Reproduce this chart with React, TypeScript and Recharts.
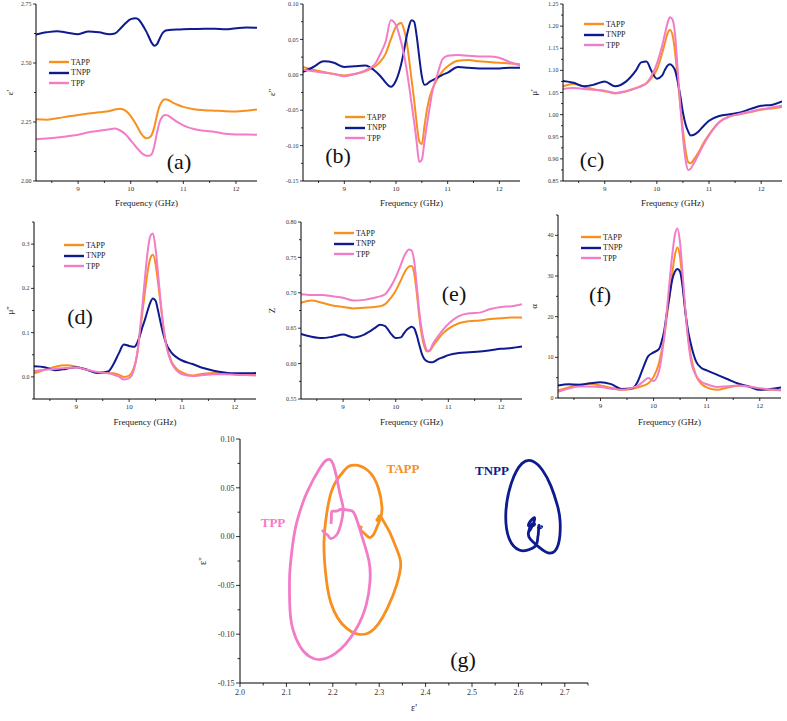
import { LineChart, Line, XAxis, YAxis, Legend } from 'recharts'

const SERIF = '"Liberation Serif", "Times New Roman", serif'

const COLORS: Record<string, string> = {
  TAPP: '#F7901F',
  TNPP: '#0E1B8E',
  TPP: '#F27CC8',
}
const SERIES = ['TAPP', 'TNPP', 'TPP']

// frequency grid (GHz)
const freq = [8.2, 8.4, 8.6, 8.8, 9.0, 9.2, 9.4, 9.6, 9.7, 9.8, 9.9, 10.0, 10.1, 10.15, 10.2, 10.25, 10.3, 10.35, 10.4, 10.45, 10.5, 10.55, 10.6, 10.65, 10.7, 10.8, 10.9, 11.0, 11.2, 11.4, 11.6, 11.8, 12.0, 12.2, 12.4]

// (a) real permittivity
const epsRealTAPP = [2.262, 2.260, 2.266, 2.273, 2.280, 2.286, 2.291, 2.297, 2.303, 2.306, 2.298, 2.275, 2.240, 2.220, 2.200, 2.187, 2.181, 2.184, 2.196, 2.230, 2.280, 2.318, 2.338, 2.346, 2.344, 2.332, 2.322, 2.314, 2.304, 2.300, 2.298, 2.296, 2.295, 2.298, 2.303]
const epsRealTNPP = [2.621, 2.630, 2.635, 2.628, 2.622, 2.634, 2.630, 2.622, 2.625, 2.645, 2.668, 2.686, 2.690, 2.684, 2.670, 2.652, 2.632, 2.608, 2.585, 2.573, 2.580, 2.603, 2.625, 2.636, 2.639, 2.641, 2.642, 2.643, 2.644, 2.645, 2.645, 2.643, 2.647, 2.650, 2.649]
const epsRealTPP = [2.177, 2.180, 2.184, 2.190, 2.196, 2.207, 2.213, 2.219, 2.222, 2.214, 2.198, 2.172, 2.145, 2.132, 2.120, 2.112, 2.107, 2.107, 2.114, 2.150, 2.205, 2.250, 2.272, 2.280, 2.278, 2.263, 2.248, 2.236, 2.220, 2.213, 2.208, 2.200, 2.197, 2.197, 2.196]

// (b) imaginary permittivity
const epsImagTAPP = [0.011, 0.007, 0.004, 0.001, -0.001, 0.001, 0.005, 0.012, 0.019, 0.030, 0.050, 0.068, 0.073, 0.065, 0.050, 0.024, -0.006, -0.035, -0.068, -0.094, -0.098, -0.073, -0.049, -0.032, -0.021, -0.006, 0.005, 0.012, 0.020, 0.021, 0.019, 0.018, 0.017, 0.016, 0.015]
const epsImagTNPP = [0.004, 0.011, 0.019, 0.017, 0.011, 0.012, 0.013, 0.005, -0.002, -0.011, -0.017, -0.008, 0.015, 0.032, 0.052, 0.068, 0.077, 0.075, 0.055, 0.025, -0.002, -0.014, -0.013, -0.010, -0.008, -0.004, 0.000, 0.003, 0.011, 0.010, 0.009, 0.009, 0.009, 0.010, 0.010]
const epsImagTPP = [0.007, 0.005, 0.003, 0.001, -0.002, 0.001, 0.006, 0.016, 0.030, 0.047, 0.077, 0.070, 0.046, 0.030, 0.010, -0.014, -0.040, -0.066, -0.095, -0.123, -0.120, -0.095, -0.070, -0.047, -0.025, 0.000, 0.022, 0.027, 0.028, 0.027, 0.026, 0.026, 0.024, 0.018, 0.013]

// (c) real permeability
const muRealTAPP = [1.064, 1.070, 1.063, 1.057, 1.053, 1.048, 1.052, 1.060, 1.065, 1.071, 1.083, 1.102, 1.138, 1.160, 1.182, 1.191, 1.180, 1.140, 1.080, 1.020, 0.965, 0.920, 0.893, 0.890, 0.897, 0.915, 0.937, 0.955, 0.984, 0.996, 1.001, 1.006, 1.011, 1.014, 1.017]
const muRealTNPP = [1.076, 1.072, 1.064, 1.068, 1.075, 1.064, 1.074, 1.100, 1.118, 1.120, 1.098, 1.081, 1.088, 1.100, 1.110, 1.114, 1.110, 1.100, 1.075, 1.042, 1.005, 0.978, 0.962, 0.953, 0.954, 0.962, 0.975, 0.986, 0.997, 1.001, 1.005, 1.013, 1.020, 1.022, 1.030]
const muRealTPP = [1.058, 1.060, 1.058, 1.056, 1.054, 1.049, 1.053, 1.060, 1.064, 1.071, 1.088, 1.115, 1.155, 1.180, 1.205, 1.220, 1.215, 1.180, 1.100, 1.020, 0.950, 0.898, 0.875, 0.878, 0.888, 0.910, 0.933, 0.953, 0.983, 0.996, 1.002, 1.007, 1.012, 1.016, 1.020]

// (d) imaginary permeability
const muImagTAPP = [0.008, 0.016, 0.023, 0.026, 0.023, 0.016, 0.010, 0.009, 0.008, 0.005, 0.000, 0.003, 0.025, 0.050, 0.095, 0.145, 0.193, 0.238, 0.268, 0.276, 0.255, 0.210, 0.160, 0.112, 0.075, 0.035, 0.018, 0.010, 0.003, 0.007, 0.009, 0.008, 0.006, 0.005, 0.004]
const muImagTNPP = [0.024, 0.022, 0.015, 0.018, 0.022, 0.016, 0.009, 0.012, 0.028, 0.052, 0.073, 0.070, 0.068, 0.076, 0.092, 0.112, 0.130, 0.150, 0.168, 0.177, 0.172, 0.148, 0.120, 0.095, 0.075, 0.055, 0.044, 0.037, 0.029, 0.020, 0.014, 0.010, 0.008, 0.008, 0.009]
const muImagTPP = [0.013, 0.016, 0.018, 0.020, 0.021, 0.016, 0.011, 0.008, 0.005, 0.001, -0.006, -0.003, 0.020, 0.050, 0.100, 0.160, 0.225, 0.283, 0.318, 0.324, 0.290, 0.230, 0.165, 0.110, 0.072, 0.032, 0.014, 0.006, 0.002, 0.004, 0.006, 0.006, 0.005, 0.004, 0.003]

// (e) impedance
const zTAPP = [0.686, 0.689, 0.686, 0.682, 0.680, 0.678, 0.679, 0.680, 0.681, 0.684, 0.692, 0.703, 0.718, 0.726, 0.733, 0.737, 0.738, 0.728, 0.700, 0.665, 0.638, 0.623, 0.617, 0.618, 0.624, 0.634, 0.643, 0.649, 0.657, 0.660, 0.661, 0.663, 0.664, 0.665, 0.665]
const zTNPP = [0.642, 0.638, 0.636, 0.638, 0.641, 0.637, 0.641, 0.650, 0.655, 0.653, 0.643, 0.636, 0.637, 0.642, 0.647, 0.650, 0.652, 0.650, 0.640, 0.626, 0.613, 0.606, 0.603, 0.602, 0.602, 0.606, 0.609, 0.612, 0.615, 0.616, 0.617, 0.619, 0.621, 0.622, 0.624]
const zTPP = [0.698, 0.697, 0.697, 0.695, 0.693, 0.689, 0.690, 0.693, 0.695, 0.698, 0.708, 0.722, 0.740, 0.750, 0.757, 0.761, 0.760, 0.745, 0.710, 0.672, 0.645, 0.628, 0.618, 0.619, 0.627, 0.638, 0.648, 0.656, 0.667, 0.671, 0.672, 0.677, 0.680, 0.681, 0.684]

// (f) attenuation constant
const alphaTAPP = [1.9, 2.6, 3.4, 3.5, 3.1, 2.5, 2.0, 2.3, 2.6, 3.0, 3.6, 5.2, 8.5, 11.5, 15.0, 20.0, 25.0, 30.5, 35.0, 37.0, 34.5, 28.0, 21.0, 15.0, 10.5, 5.5, 3.5, 2.6, 2.0, 2.6, 3.0, 2.8, 2.3, 2.0, 1.9]
const alphaTNPP = [3.1, 3.4, 3.2, 3.6, 3.9, 3.4, 2.2, 2.4, 4.0, 7.3, 10.3, 11.2, 12.0, 13.8, 16.5, 21.0, 25.0, 29.0, 31.0, 31.7, 31.0, 27.0, 21.0, 16.5, 13.4, 9.0, 7.4, 6.8, 5.7, 4.6, 3.5, 2.8, 2.0, 2.2, 2.6]
const alphaTPP = [1.5, 2.3, 2.8, 2.8, 2.7, 2.3, 2.0, 2.5, 3.0, 4.0, 4.9, 4.2, 6.5, 10.0, 15.0, 21.5, 28.5, 35.0, 40.0, 41.7, 38.0, 30.0, 21.5, 14.5, 9.5, 5.5, 4.0, 3.4, 2.7, 2.9, 3.1, 2.8, 2.4, 2.1, 1.9]

// tick values
const freqTicks = [8.5, 9, 9.5, 10, 10.5, 11, 11.5, 12]
const ticksA = [2.0, 2.125, 2.25, 2.375, 2.5, 2.625, 2.75]
const ticksB = [-0.15, -0.125, -0.1, -0.075, -0.05, -0.025, 0, 0.025, 0.05, 0.075, 0.1]
const ticksC = [0.85, 0.875, 0.9, 0.925, 0.95, 0.975, 1.0, 1.025, 1.05, 1.075, 1.1, 1.125, 1.15, 1.175, 1.2, 1.225, 1.25]
const ticksD = [-0.05, 0, 0.05, 0.1, 0.15, 0.2, 0.25, 0.3, 0.35]
const ticksE = [0.55, 0.575, 0.6, 0.625, 0.65, 0.675, 0.7, 0.725, 0.75, 0.775, 0.8]
const ticksF = [0, 5, 10, 15, 20, 25, 30, 35, 40, 45]
const ticksGX = [2.0, 2.05, 2.1, 2.15, 2.2, 2.25, 2.3, 2.35, 2.4, 2.45, 2.5, 2.55, 2.6, 2.65, 2.7, 2.75]
const ticksGY = [-0.15, -0.125, -0.1, -0.075, -0.05, -0.025, 0, 0.025, 0.05, 0.075, 0.1]

const rows = (a: number[], b: number[], c: number[]) =>
  freq.map((f, i) => ({ f, TAPP: a[i], TNPP: b[i], TPP: c[i] }))

const coleCole = (re: number[], im: number[]) => freq.map((_, i) => ({ x: re[i], y: im[i] }))

const isMajor = (v: number, step: number) => Math.abs(v / step - Math.round(v / step)) < 1e-6

function XTick(props: any) {
  const { x, y, payload, step, digits = 0, size = 7, len = 3, minor = 2 } = props
  const v = payload.value
  const major = isMajor(v, step)
  return (
    <g>
      <line x1={x} x2={x} y1={y} y2={y + (major ? len : minor)} stroke="#000" strokeWidth={0.8} />
      {major && (
        <text x={x} y={y + len + 2} dy="0.75em" textAnchor="middle" fontSize={size} fontFamily={SERIF} fill="#333">
          {v.toFixed(digits)}
        </text>
      )}
    </g>
  )
}

function YTick(props: any) {
  const { x, y, payload, step, digits = 2, size = 6, len = 3, minor = 2 } = props
  const v = payload.value
  const major = isMajor(v, step)
  return (
    <g>
      <line x1={x - (major ? len : minor)} x2={x} y1={y} y2={y} stroke="#000" strokeWidth={0.8} />
      {major && (
        <text x={x - len - 1.5} y={y} dy="0.35em" textAnchor="end" fontSize={size} fontFamily={SERIF} fill="#333">
          {v.toFixed(digits)}
        </text>
      )}
    </g>
  )
}

const LegendBox = ({ payload }: any) => (
  <div style={{ fontFamily: SERIF, fontSize: 8, color: '#222' }}>
    {(payload || []).map((p: any) => (
      <div key={p.value} style={{ display: 'flex', alignItems: 'center', height: 10.5 }}>
        <svg width={20} height={4} style={{ marginRight: 2 }}>
          <line x1={0} x2={20} y1={2} y2={2} stroke={p.color} strokeWidth={2.4} />
        </svg>
        <span>{p.value}</span>
      </div>
    ))}
  </div>
)

interface PanelProps {
  left: number
  top: number
  width: number
  height: number
  margin: { top: number; right: number; bottom: number; left: number }
  yWidth: number
  xHeight: number
  data: any[]
  yDomain: [number, number]
  yTicks: number[]
  yStep: number
  yDigits: number
  yLabel: string
  xLabelOffset: number
  legend: { left: number; top: number }
}

function Panel(p: PanelProps) {
  return (
    <div style={{ position: 'absolute', left: p.left, top: p.top }}>
      <LineChart width={p.width} height={p.height} data={p.data} margin={p.margin}>
        <XAxis
          dataKey="f"
          type="number"
          domain={[8.2, 12.4]}
          allowDataOverflow
          ticks={freqTicks}
          interval={0}
          height={p.xHeight}
          stroke="#000"
          tickLine={false}
          tickSize={0}
          tickMargin={0}
          tick={<XTick step={1} />}
          label={{ value: 'Frequency (GHz)', position: 'insideBottom', offset: p.xLabelOffset, fontSize: 9, fontFamily: SERIF, fill: '#222' }}
        />
        <YAxis
          type="number"
          domain={p.yDomain}
          allowDataOverflow
          ticks={p.yTicks}
          interval={0}
          width={p.yWidth}
          stroke="#000"
          tickLine={false}
          tickSize={0}
          tickMargin={0}
          tick={<YTick step={p.yStep} digits={p.yDigits} />}
          label={{ value: p.yLabel, angle: -90, position: 'insideLeft', offset: 10, fontSize: 9, fontFamily: SERIF, fill: '#222', style: { textAnchor: 'middle' } }}
        />
        <Legend
          layout="vertical"
          align="center"
          verticalAlign="middle"
          content={<LegendBox />}
          wrapperStyle={{ left: p.legend.left, top: p.legend.top, width: 'auto' }}
        />
        {SERIES.map((s) => (
          <Line key={s} dataKey={s} name={s} stroke={COLORS[s]} strokeWidth={2} dot={false} type="monotone" isAnimationActive={false} />
        ))}
      </LineChart>
    </div>
  )
}

const tag = (text: string, x: number, y: number, size = 22, color = '#111', bold = false) => (
  <div
    key={text}
    style={{
      position: 'absolute',
      left: x,
      top: y,
      transform: 'translate(-50%, -50%)',
      fontFamily: SERIF,
      fontSize: size,
      fontWeight: bold ? 'bold' : 'normal',
      color,
      whiteSpace: 'nowrap',
      lineHeight: 1,
    }}
  >
    {text}
  </div>
)

export default function App() {
  const colePoints: Record<string, { x: number; y: number }[]> = {
    TAPP: coleCole(epsRealTAPP, epsImagTAPP),
    TNPP: coleCole(epsRealTNPP, epsImagTNPP),
    TPP: coleCole(epsRealTPP, epsImagTPP),
  }

  return (
    <div style={{ position: 'absolute', left: 0, top: 0, width: 787, height: 721, background: '#fff', overflow: 'hidden' }}>
      <Panel left={0} top={0} width={262} height={215} margin={{ top: 4, right: 5, bottom: 0, left: 0 }} yWidth={36} xHeight={34}
        data={rows(epsRealTAPP, epsRealTNPP, epsRealTPP)} yDomain={[2.0, 2.75]} yTicks={ticksA} yStep={0.25} yDigits={2}
        yLabel="ε'" xLabelOffset={9} legend={{ left: 49, top: 57 }} />
      <Panel left={262} top={0} width={262} height={215} margin={{ top: 4, right: 4, bottom: 0, left: 0 }} yWidth={41} xHeight={34}
        data={rows(epsImagTAPP, epsImagTNPP, epsImagTPP)} yDomain={[-0.15, 0.1]} yTicks={ticksB} yStep={0.05} yDigits={2}
        yLabel="ε''" xLabelOffset={9} legend={{ left: 83, top: 112 }} />
      <Panel left={524} top={0} width={263} height={215} margin={{ top: 4, right: 5, bottom: 0, left: 0 }} yWidth={39} xHeight={34}
        data={rows(muRealTAPP, muRealTNPP, muRealTPP)} yDomain={[0.85, 1.25]} yTicks={ticksC} yStep={0.05} yDigits={2}
        yLabel="μ'" xLabelOffset={9} legend={{ left: 60, top: 19 }} />

      <Panel left={0} top={210} width={262} height={220} margin={{ top: 12, right: 6, bottom: 0, left: 0 }} yWidth={34} xHeight={31}
        data={rows(muImagTAPP, muImagTNPP, muImagTPP)} yDomain={[-0.05, 0.35]} yTicks={ticksD} yStep={0.1} yDigits={1}
        yLabel="μ''" xLabelOffset={5} legend={{ left: 64, top: 30 }} />
      <Panel left={262} top={210} width={262} height={220} margin={{ top: 12, right: 2, bottom: 0, left: 0 }} yWidth={39} xHeight={31}
        data={rows(zTAPP, zTNPP, zTPP)} yDomain={[0.55, 0.8]} yTicks={ticksE} yStep={0.05} yDigits={2}
        yLabel="Z" xLabelOffset={5} legend={{ left: 72, top: 18 }} />
      <Panel left={524} top={210} width={263} height={220} margin={{ top: 5, right: 6, bottom: 0, left: 0 }} yWidth={34} xHeight={32}
        data={rows(alphaTAPP, alphaTNPP, alphaTPP)} yDomain={[0, 45]} yTicks={ticksF} yStep={10} yDigits={0}
        yLabel="α" xLabelOffset={5} legend={{ left: 57, top: 22 }} />

      <div style={{ position: 'absolute', left: 190, top: 430 }}>
        <LineChart width={410} height={291} margin={{ top: 9, right: 12, bottom: 0, left: 0 }}>
          <XAxis
            dataKey="x"
            type="number"
            domain={[2.0, 2.75]}
            allowDataOverflow
            ticks={ticksGX}
            interval={0}
            height={38}
            stroke="#000"
            tickLine={false}
            tickSize={0}
            tickMargin={0}
            tick={<XTick step={0.1} digits={1} size={8} len={4} minor={2.5} />}
            label={{ value: "ε'", position: 'insideBottom', offset: 10, fontSize: 10, fontFamily: SERIF, fill: '#222' }}
          />
          <YAxis
            type="number"
            domain={[-0.15, 0.1]}
            allowDataOverflow
            ticks={ticksGY}
            interval={0}
            width={50}
            stroke="#000"
            tickLine={false}
            tickSize={0}
            tickMargin={0}
            tick={<YTick step={0.05} digits={2} size={8} len={4} minor={2.5} />}
            label={{ value: "ε''", angle: -90, position: 'insideLeft', offset: 12, fontSize: 10, fontFamily: SERIF, fill: '#222', style: { textAnchor: 'middle' } }}
          />
          {SERIES.map((s) => (
            <Line key={s} data={colePoints[s]} dataKey="y" name={s} stroke={COLORS[s]} strokeWidth={2.8} dot={false} type="natural" isAnimationActive={false} />
          ))}
        </LineChart>
      </div>

      {tag('(a)', 179, 162)}
      {tag('(b)', 338, 156)}
      {tag('(c)', 592, 160)}
      {tag('(d)', 80, 317)}
      {tag('(e)', 454, 294)}
      {tag('(f)', 600, 295)}
      {tag('(g)', 463, 660)}
      {tag('TPP', 273, 522, 13, COLORS.TPP, true)}
      {tag('TAPP', 403, 468, 13, COLORS.TAPP, true)}
      {tag('TNPP', 492, 470, 13, COLORS.TNPP, true)}
    </div>
  )
}
